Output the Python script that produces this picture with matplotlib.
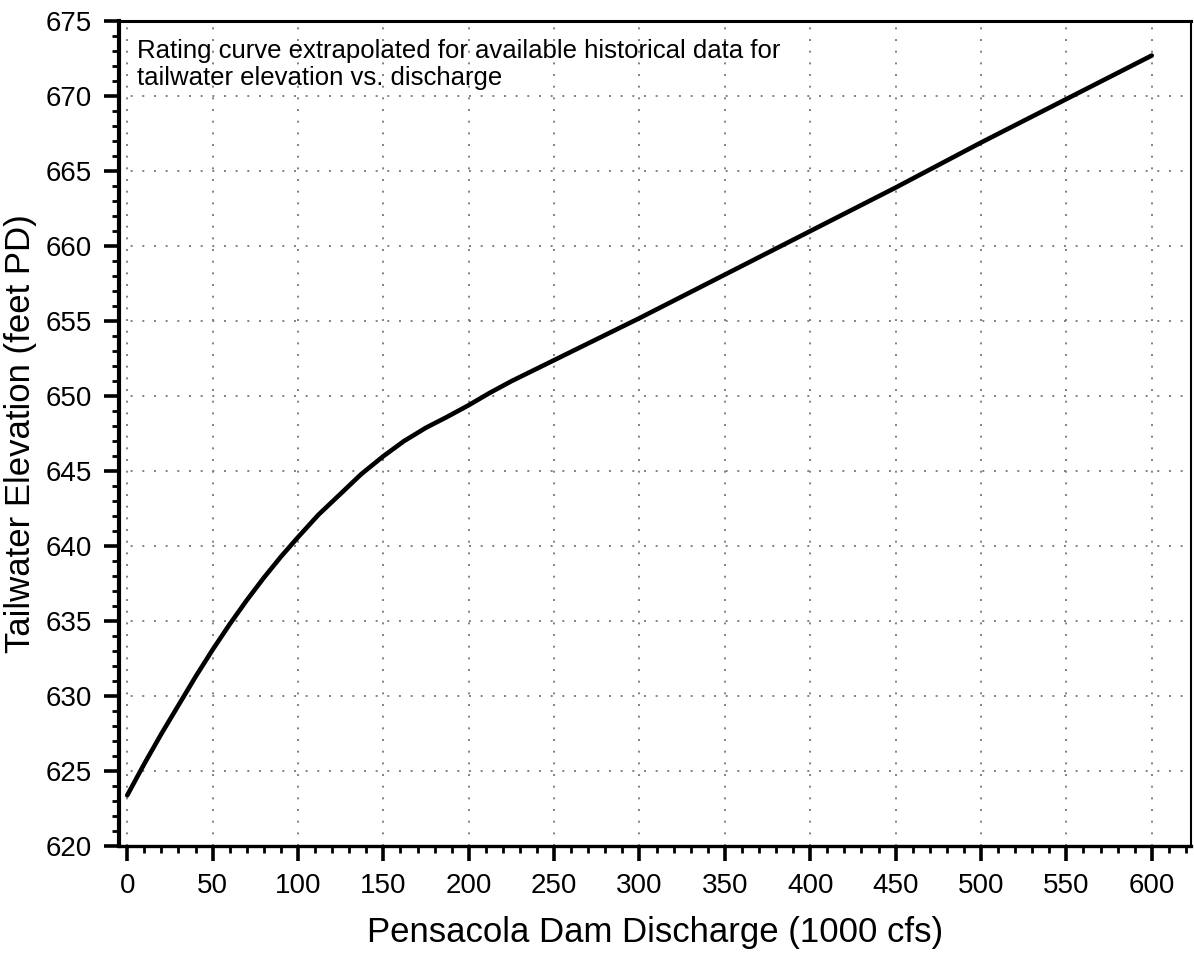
import matplotlib
matplotlib.use('Agg')
import matplotlib.pyplot as plt
from matplotlib.ticker import MultipleLocator

plt.rcParams['font.family'] = ['Liberation Sans', 'DejaVu Sans']

# discharge (1000 cfs) vs tailwater elevation (feet PD)
discharge = [0, 10, 20, 30, 40, 50, 60, 70, 80, 90, 100, 112, 125, 137, 150,
             162, 175, 187, 200, 212, 225, 250, 275, 300, 350, 400, 450, 500,
             550, 600]
elevation = [623.4, 625.5, 627.5, 629.4, 631.3, 633.1, 634.8, 636.4, 637.9,
             639.3, 640.6, 642.1, 643.5, 644.8, 646.0, 647.0, 647.9, 648.6,
             649.4, 650.2, 651.0, 652.4, 653.8, 655.2, 658.1, 661.0, 663.9,
             666.9, 669.8, 672.7]

fig = plt.figure(figsize=(11.94, 9.56), dpi=100)
ax = fig.add_axes([0.0994, 0.1147, 0.8981, 0.8633])

ax.plot(discharge, elevation, color='black', linewidth=3.3,
        solid_capstyle='round', solid_joinstyle='round')

ax.set_xlim(-5, 623)
ax.set_ylim(620, 675)
ax.xaxis.set_major_locator(MultipleLocator(50))
ax.xaxis.set_minor_locator(MultipleLocator(10))
ax.yaxis.set_major_locator(MultipleLocator(5))
ax.yaxis.set_minor_locator(MultipleLocator(1))

ax.grid(True, which='major', linestyle=(0, (1, 5)), color='#808080', linewidth=1.4)

ax.tick_params(which='major', direction='out', length=10.5, width=2.6, labelsize=20,
               top=False, right=False, pad=9)
ax.tick_params(which='minor', direction='out', length=5, width=2.0,
               top=False, right=False)

ax.spines['left'].set_linewidth(3.0)
ax.spines['bottom'].set_linewidth(2.4)
ax.spines['top'].set_linewidth(2.2)
ax.spines['right'].set_linewidth(1.5)

ax.set_xlabel('Pensacola Dam Discharge (1000 cfs)', fontsize=25, labelpad=12)
ax.set_ylabel('Tailwater Elevation (feet PD)', fontsize=25, labelpad=6)

ax.text(0.017, 0.978, 'Rating curve extrapolated for available historical data for\n'
        'tailwater elevation vs. discharge', transform=ax.transAxes,
        fontsize=18.5, va='top', ha='left', linespacing=1.17)

plt.savefig('out.png', dpi=100)
